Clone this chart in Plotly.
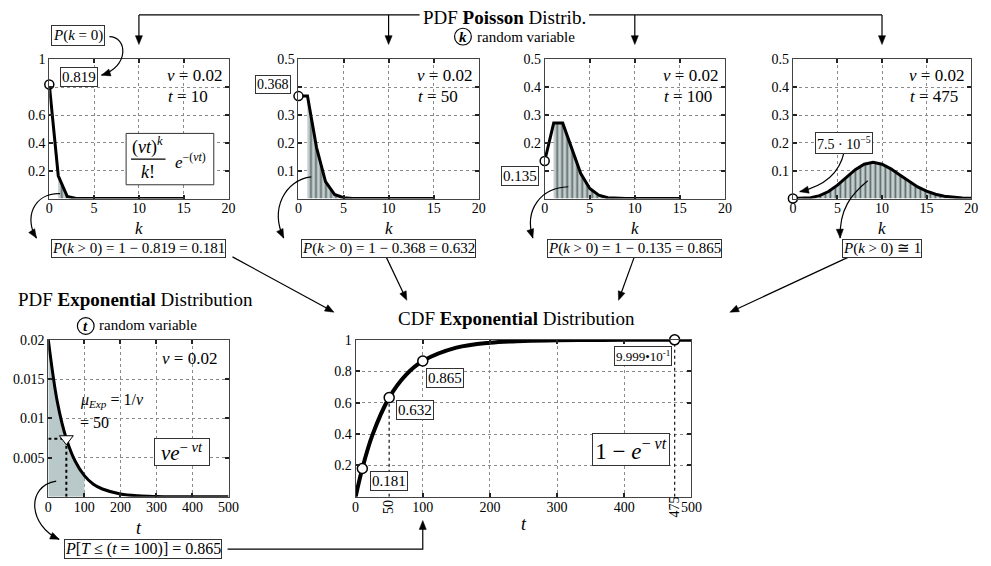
import plotly.graph_objects as go

W, H = 991, 566
SERIF = "Liberation Serif"

# ---------------- data ----------------
nu = 0.02
k15 = list(range(0, 16))
k20 = list(range(0, 21))

pois_t10 = [0.819, 0.164, 0.016, 0.001, 0, 0, 0, 0, 0, 0, 0, 0, 0, 0, 0, 0]
pois_t50 = [0.368, 0.368, 0.184, 0.061, 0.015, 0.003, 0.0005, 0.0001,
            0, 0, 0, 0, 0, 0, 0, 0]
pois_t100 = [0.135, 0.271, 0.271, 0.180, 0.090, 0.036, 0.012, 0.003,
             0.0009, 0.0002, 0, 0, 0, 0, 0, 0]
pois_t475 = [0.000075, 0.0007, 0.0034, 0.0107, 0.0254, 0.0483, 0.0764,
             0.1037, 0.1232, 0.1300, 0.1235, 0.1067, 0.0844, 0.0617,
             0.0419, 0.0265, 0.0157, 0.0088, 0.0046, 0.0023, 0.0011]

t_pdf = [0, 25, 50, 75, 100, 125, 150, 200, 250, 300, 350, 400, 450, 500]
pdf_exp = [0.0200, 0.0121, 0.0074, 0.0045, 0.0027, 0.0016, 0.0010,
           0.00037, 0.00013, 0.00005, 0.00002, 0.00001, 0.0, 0.0]

t_cdf = [0, 10, 25, 50, 75, 100, 150, 200, 250, 300, 350, 400, 475, 500]
cdf_exp = [0, 0.181, 0.393, 0.632, 0.777, 0.865, 0.950, 0.982, 0.993,
           0.998, 0.999, 1.0, 0.9999, 1.0]

t_marks = [10, 50, 100, 475]
cdf_marks = [0.181, 0.632, 0.865, 0.9999]

t_mean = 50
pdf_mean = 0.0074
t_shade = 100
p_shade = 0.865

# panel pixel boxes: (left, right, top, bottom)
PANELS = [
    (46, 228, 53, 194),
    (299, 482, 53, 194),
    (549, 732, 53, 194),
    (801, 982, 53, 194),
    (45, 228, 337, 496),
    (357, 698, 337, 496),
]


def px(x):
    return x / W


def py(y):
    return 1 - y / H


def xpix(i, v, lo, hi):
    l, r, _, _ = PANELS[i]
    return l + (v - lo) / (hi - lo) * (r - l)


fig = go.Figure()
shapes = []
annos = []


def text(s, cx, cy, size=15, xanchor="center", **kw):
    d = dict(x=px(cx), y=py(cy), xref="paper", yref="paper", text=s,
             showarrow=False, xanchor=xanchor, yanchor="middle",
             font=dict(family=SERIF, size=size, color="black"))
    d.update(kw)
    annos.append(d)


def box_label(s, cx, cy, size=14, **kw):
    kw.setdefault("borderpad", 1)
    text(s, cx, cy, size, bordercolor="#333", borderwidth=1,
         bgcolor="white", **kw)


def path_str(pts):
    return "M " + " L ".join(f"{px(x)},{py(y)}" for x, y in pts)


def line(pts, width=1.2):
    shapes.append(dict(type="path", path=path_str(pts), xref="paper",
                       yref="paper", line=dict(color="black", width=width)))


def head(tip, dx, dy, length=9, half=3.6):
    # filled triangular arrowhead pointing along (dx, dy) with its tip at `tip`
    n = (dx * dx + dy * dy) ** 0.5
    ux, uy = dx / n, dy / n
    bx, by = tip[0] - length * ux, tip[1] - length * uy
    pts = [tip, (bx - half * uy, by + half * ux), (bx + half * uy, by - half * ux)]
    shapes.append(dict(type="path", path=path_str(pts) + " Z", xref="paper",
                       yref="paper", fillcolor="black",
                       line=dict(color="black", width=0.5)))


def arrow(tail, tip, width=1.2):
    dx, dy = tip[0] - tail[0], tip[1] - tail[1]
    n = (dx * dx + dy * dy) ** 0.5
    end = (tip[0] - 6 * dx / n, tip[1] - 6 * dy / n)
    line([tail, end], width)
    head(tip, dx, dy)


def curved_arrow(p0, c1, c2, p1, width=1.2):
    d = (f"M {px(p0[0])},{py(p0[1])} C {px(c1[0])},{py(c1[1])} "
         f"{px(c2[0])},{py(c2[1])} {px(p1[0])},{py(p1[1])}")
    shapes.append(dict(type="path", path=d, xref="paper", yref="paper",
                       line=dict(color="black", width=width)))
    head(p1, p1[0] - c2[0], p1[1] - c2[1])


def circled(letter, cx, cy, r=8.5):
    shapes.append(dict(type="circle", xref="paper", yref="paper",
                       x0=px(cx - r), x1=px(cx + r), y0=py(cy + r), y1=py(cy - r),
                       line=dict(color="black", width=1.2)))
    text(f"<b><i>{letter}</i></b>", cx, cy, 15)


# ---------------- axes ----------------
def axis_common():
    return dict(showline=True, linecolor="#444", linewidth=1, mirror="ticks",
                ticks="inside", ticklen=4, tickwidth=1.5, tickcolor="#222",
                showgrid=True, gridcolor="#8a8a8a", griddash="dot", gridwidth=1,
                zeroline=False, fixedrange=True,
                tickfont=dict(family=SERIF, size=14, color="black"))


layout_axes = {}
y_ticks = [
    ([0.2, 0.4, 0.6, 0.8, 1], ["0.2", "0.4", "0.6", "", "1"], [0, 1]),
    ([0.1, 0.2, 0.3, 0.4, 0.5], ["0.1", "0.2", "0.3", "", "0.5"], [0, 0.5]),
    ([0.1, 0.2, 0.3, 0.4, 0.5], ["", "0.2", "0.3", "0.4", "0.5"], [0, 0.5]),
    ([0.1, 0.2, 0.3, 0.4, 0.5], ["0.1", "0.2", "0.3", "0.4", "0.5"], [0, 0.5]),
    ([0.005, 0.01, 0.015, 0.02], ["0.005", "0.01", "0.015", "0.02"], [0, 0.02]),
    ([0.2, 0.4, 0.6, 0.8, 1], ["0.2", "0.4", "0.6", "0.8", "1"], [0, 1]),
]
x_ticks = [
    ([0, 5, 10, 15, 20], [0, 20]),
    ([0, 5, 10, 15, 20], [0, 20]),
    ([0, 5, 10, 15, 20], [0, 20]),
    ([0, 5, 10, 15, 20], [0, 20]),
    ([0, 100, 200, 300, 400, 500], [0, 500]),
    ([0, 100, 200, 300, 400, 500], [0, 500]),
]
for i, (l, r, t, b) in enumerate(PANELS):
    n = "" if i == 0 else str(i + 1)
    xa = axis_common()
    xa.update(domain=[px(l), px(r)], anchor="y" + n, range=x_ticks[i][1],
              tickvals=x_ticks[i][0], ticklabelstandoff=-3)
    ya = axis_common()
    ya.update(domain=[py(b), py(t)], anchor="x" + n, range=y_ticks[i][2],
              tickvals=y_ticks[i][0], ticktext=y_ticks[i][1])
    layout_axes["xaxis" + n] = xa
    layout_axes["yaxis" + n] = ya


def axref(i):
    n = "" if i == 0 else str(i + 1)
    return "x" + n, "y" + n


# ---------------- Poisson panels ----------------
FILL_BG = "#c2cfcf"
pois_sets = [(k15, pois_t10, 10), (k15, pois_t50, 50),
             (k15, pois_t100, 100), (k20, pois_t475, 475)]
for i, (kk, pp, tt) in enumerate(pois_sets):
    xr, yr = axref(i)
    fig.add_trace(go.Scatter(
        x=kk[1:], y=pp[1:], xaxis=xr, yaxis=yr, mode="lines",
        line=dict(width=0), fill="tozeroy", fillcolor=FILL_BG,
        fillpattern=dict(shape="|", fgcolor="black", bgcolor=FILL_BG,
                         size=5, solidity=0.35),
        hoverinfo="skip", showlegend=False))
    fig.add_trace(go.Scatter(
        x=kk, y=pp, xaxis=xr, yaxis=yr, mode="lines",
        line=dict(color="black", width=3), showlegend=False,
        cliponaxis=False))
    fig.add_trace(go.Scatter(
        x=[kk[0]], y=[pp[0]], xaxis=xr, yaxis=yr, mode="markers",
        marker=dict(symbol="circle", size=9, color="white",
                    line=dict(color="black", width=1.5)),
        showlegend=False, cliponaxis=False))
    l, r, t, b = PANELS[i]
    text("<i>ν</i> = 0.02", r - 65, 69, 17, xanchor="left")
    text(f"<i>t</i> = {tt}", r - 64, 91, 17, xanchor="left")
    text("<i>k</i>", (l + r) / 2, 224, 17)


# labels tied to the Poisson values
p0_t10, p0_t50, p0_t100, p0_t475 = pois_t10[0], pois_t50[0], pois_t100[0], pois_t475[0]
box_label(f"{p0_t10:.3f}", 76, 71, 15)
box_label("<i>P</i>(<i>k</i> = 0)", 75, 29, 15)
box_label(f"{p0_t50:.3f}", 273, 78, 14)
box_label(f"{p0_t100:.3f}", 524, 171, 15)
box_label("7.5 · 10<sup>−5</sup>", 853, 138, 14)

px_center = [xpix(i, 10, 0, 20) for i in range(4)]
for i, p0 in enumerate([p0_t10, p0_t50, p0_t100]):
    box_label(f"<i>P</i>(<i>k</i> &gt; 0) = 1 − {p0:.3f} = {1 - p0:.3f}",
              px_center[i], 245, 15, borderpad=0)
box_label("<i>P</i>(<i>k</i> &gt; 0) ≅ 1", px_center[3], 245, 15, borderpad=0)

# Poisson formula box in panel 1
shapes.append(dict(type="rect", xref="paper", yref="paper",
                   x0=px(124), x1=px(213), y0=py(180), y1=py(128),
                   fillcolor="white", line=dict(color="#333", width=1)))
text("(<i>νt</i>)<sup><i>k</i></sup>", 146, 141, 18)
shapes.append(dict(type="line", xref="paper", yref="paper",
                   x0=px(129), x1=px(164), y0=py(154), y1=py(154),
                   line=dict(color="black", width=1.2)))
text("<i>k</i>!", 146, 167, 18)
text("<i>e</i><sup>−(<i>νt</i>)</sup>", 189, 156, 17)

# top title and connectors
text("PDF <b>Poisson</b> Distrib.", 508, 11, 19)
circled("k", 466, 30)
text("random variable", 478, 30, 15, xanchor="left")
line([(px_center[0], 8), (422, 8)])
line([(594, 8), (px_center[3], 8)])
for xc in px_center:
    arrow((xc, 8), (xc, 38))

# curved arrows in the Poisson row
curved_arrow((107, 30), (125, 30), (128, 60), (99, 69))
curved_arrow((57, 189), (30, 188), (20, 214), (33, 234))
curved_arrow((312, 172), (285, 175), (270, 205), (284, 234))
curved_arrow((573, 182), (545, 183), (528, 205), (537, 234))
curved_arrow((853, 147), (848, 170), (830, 182), (808, 187))
curved_arrow((877, 176), (860, 190), (848, 205), (849, 234))

# arrows towards the CDF title
arrow((232, 253), (335, 309))
arrow((388, 253), (409, 297))
arrow((640, 253), (624, 297))
arrow((858, 253), (737, 309))

# ---------------- exponential PDF ----------------
xr, yr = axref(4)
n_sh = t_pdf.index(t_shade) + 1
fig.add_trace(go.Scatter(
    x=t_pdf[:n_sh], y=pdf_exp[:n_sh], xaxis=xr, yaxis=yr, mode="lines",
    line=dict(width=0, shape="spline"), fill="tozeroy", fillcolor="#b9c9c9",
    hoverinfo="skip", showlegend=False))
fig.add_trace(go.Scatter(
    x=[t_mean, t_mean], y=[0, pdf_mean], xaxis=xr, yaxis=yr, mode="lines",
    line=dict(color="black", width=2, dash="dot"), showlegend=False))
fig.add_trace(go.Scatter(
    x=[0, t_mean], y=[pdf_mean, pdf_mean], xaxis=xr, yaxis=yr, mode="lines",
    line=dict(color="black", width=2, dash="dot"), showlegend=False))
fig.add_trace(go.Scatter(
    x=t_pdf, y=pdf_exp, xaxis=xr, yaxis=yr, mode="lines",
    line=dict(color="black", width=3, shape="spline"), showlegend=False,
    cliponaxis=False))
fig.add_trace(go.Scatter(
    x=[t_mean], y=[pdf_mean], xaxis=xr, yaxis=yr, mode="markers",
    marker=dict(symbol="triangle-down", size=12, color="white",
                line=dict(color="black", width=1)), showlegend=False))

text("PDF <b>Exponential</b> Distribution", 134, 296, 19)
circled("t", 83, 323)
text("random variable", 94, 322, 15, xanchor="left")
text("<i>ν</i> = 0.02", 218, 356, 17, xanchor="right")
text("<i>μ<sub>Exp</sub></i> = 1/<i>ν</i>", 75, 398, 16, xanchor="left")
text(f"= {t_mean}", 75, 421, 16, xanchor="left")
box_label("<i>νe</i><sup>− <i>νt</i></sup>", 181, 451, 21, width=52, height=24)
text("<i>t</i>", 137, 528, 18)
box_label(f"<i>P</i>[<i>T</i> ≤ (<i>t</i> = {t_shade})] = {p_shade:.3f}",
          141, 549, 16, borderpad=0)
curved_arrow((53, 480), (22, 485), (25, 525), (56, 539))

# connector from the probability box to the CDF axis
x100 = xpix(5, t_shade, 0, 500)
line([(227, 549), (x100, 549), (x100, 528)])
head((x100, 520), 0, -1)

# ---------------- exponential CDF ----------------
xr, yr = axref(5)
for tm, cm in zip(t_marks, cdf_marks):
    if tm in (50, 475):
        fig.add_trace(go.Scatter(
            x=[tm, tm], y=[0, cm], xaxis=xr, yaxis=yr, mode="lines",
            line=dict(color="#222", width=1.3, dash="dot"), showlegend=False))
fig.add_trace(go.Scatter(
    x=t_cdf, y=cdf_exp, xaxis=xr, yaxis=yr, mode="lines",
    line=dict(color="black", width=4, shape="spline"), showlegend=False,
    cliponaxis=False))
fig.add_trace(go.Scatter(
    x=t_marks, y=cdf_marks, xaxis=xr, yaxis=yr, mode="markers",
    marker=dict(symbol="circle", size=10, color="white",
                line=dict(color="black", width=1.5)),
    showlegend=False, cliponaxis=False))

text("CDF <b>Exponential</b> Distribution", 520, 315, 19)
label_pos = {10: (391, 480), 50: (417, 408), 100: (448, 376), 475: (649, 353)}
for tm, cm in zip(t_marks, cdf_marks):
    if tm == 475:
        box_label(f"{cm * 10:.3f}•10<sup>-1</sup>", *label_pos[tm], 13)
    else:
        box_label(f"{cm:.3f}", *label_pos[tm], 15)
for tm in (50, 475):
    annos.append(dict(x=tm, y=py(506), xref=xr, yref="paper", text=str(tm),
                      textangle=-90, showarrow=False, xanchor="center",
                      yanchor="middle", font=dict(family=SERIF, size=14)))
box_label("1 − <i>e</i><sup>− <i>νt</i></sup>", 637, 448, 23, width=74,
          height=29)
text("<i>t</i>", 528, 523, 18)

fig.update_layout(
    width=W, height=H, autosize=False,
    margin=dict(l=0, r=0, t=0, b=0),
    paper_bgcolor="white", plot_bgcolor="white",
    showlegend=False,
    font=dict(family=SERIF, color="black"),
    shapes=shapes, annotations=annos,
    **layout_axes,
)

fig.write_html("out.html", config={"displayModeBar": False})
